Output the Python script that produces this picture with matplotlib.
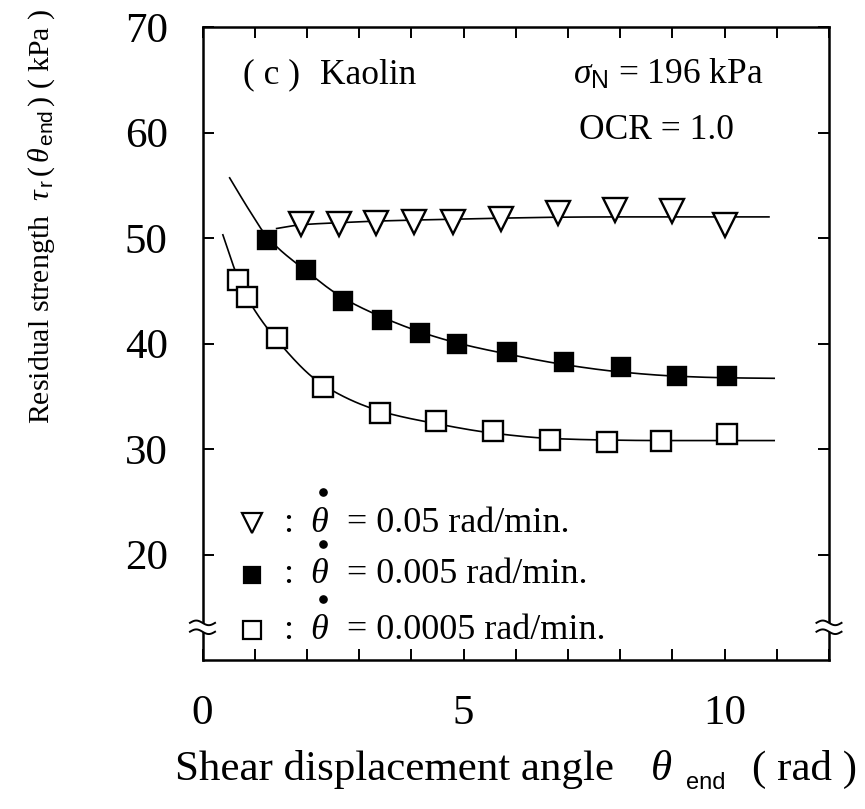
import numpy as np
import matplotlib
matplotlib.use("Agg")
import matplotlib.pyplot as plt
from matplotlib.ticker import MultipleLocator, FixedLocator

plt.rcParams["font.family"] = ["Liberation Serif", "DejaVu Serif"]
plt.rcParams["mathtext.fontset"] = "custom"
plt.rcParams["mathtext.rm"] = "Liberation Serif"
plt.rcParams["mathtext.it"] = "Liberation Serif:italic"
plt.rcParams["mathtext.sf"] = "Liberation Sans"
plt.rcParams["mathtext.bf"] = "Liberation Serif:bold"

# Measured residual strength tau_r (kPa) against shear displacement angle (rad)
theta_fast = [1.88, 2.62, 3.33, 4.06, 4.79, 5.72, 6.81, 7.91, 9.00, 10.00]
tau_fast = [51.3, 51.3, 51.45, 51.5, 51.55, 51.8, 52.4, 52.7, 52.6, 51.2]

theta_mid = [1.24, 1.98, 2.70, 3.44, 4.17, 4.88, 5.84, 6.93, 8.01, 9.09, 10.04]
tau_mid = [49.85, 47.0, 44.05, 42.2, 41.0, 40.0, 39.2, 38.2, 37.75, 36.9, 36.9]

theta_slow = [0.68, 0.86, 1.43, 2.30, 3.40, 4.48, 5.57, 6.66, 7.74, 8.79, 10.05]
tau_slow = [46.0, 44.4, 40.5, 35.9, 33.4, 32.7, 31.7, 30.9, 30.7, 30.8, 31.4]

# Knots of the hand-fitted trend curves
fit_fast_x = [1.42, 1.88, 2.62, 3.33, 4.06, 4.79, 5.72, 6.81, 7.91, 9.00, 10.85]
fit_fast_y = [50.9, 51.25, 51.45, 51.6, 51.7, 51.78, 51.88, 51.97, 52.0, 52.0, 52.0]
fit_mid_x = [0.52, 0.90, 1.24, 1.98, 2.70, 3.44, 4.17, 4.88, 5.84, 6.93, 8.01, 9.09, 10.04, 10.95]
fit_mid_y = [55.7, 52.6, 50.1, 46.9, 44.3, 42.5, 41.1, 40.05, 39.0, 38.0, 37.3, 36.9, 36.75, 36.7]
fit_slow_x = [0.39, 0.68, 0.86, 1.43, 2.30, 3.40, 4.48, 5.57, 6.66, 7.74, 8.79, 10.05, 10.95]
fit_slow_y = [50.3, 46.2, 44.3, 40.3, 36.1, 33.6, 32.4, 31.5, 31.0, 30.85, 30.8, 30.8, 30.8]

rate_labels = ["0.05", "0.005", "0.0005"]
x_tick_labels = ["0", "5", "10"]
y_tick_values = [20, 30, 40, 50, 60, 70]


def pchip(xk, yk, n=30):
    """Shape-preserving cubic through the knots (Fritsch-Carlson)."""
    x = np.asarray(xk, float)
    y = np.asarray(yk, float)
    h = np.diff(x)
    d = np.diff(y) / h
    m = np.zeros_like(x)
    for i in range(1, len(x) - 1):
        if d[i - 1] * d[i] > 0:
            w1 = 2 * h[i] + h[i - 1]
            w2 = h[i] + 2 * h[i - 1]
            m[i] = (w1 + w2) / (w1 / d[i - 1] + w2 / d[i])
    m[0] = d[0]
    m[-1] = d[-1]
    xs, ys = [], []
    for i in range(len(x) - 1):
        t = np.linspace(0, 1, n, endpoint=(i == len(x) - 2))
        h00 = 2 * t**3 - 3 * t**2 + 1
        h10 = t**3 - 2 * t**2 + t
        h01 = -2 * t**3 + 3 * t**2
        h11 = t**3 - t**2
        xs.append(x[i] + t * h[i])
        ys.append(h00 * y[i] + h10 * h[i] * m[i] + h01 * y[i + 1] + h11 * h[i] * m[i + 1])
    return np.concatenate(xs), np.concatenate(ys)


W, H = 865, 809
fig = plt.figure(figsize=(W / 100, H / 100), dpi=100)
ax = fig.add_axes([202.5 / W, (H - 660) / H, 626.5 / W, 633 / H])
ax.set_xlim(0, 12)
ax.set_ylim(10, 70)

# trend curves
for xk, yk in [(fit_fast_x, fit_fast_y), (fit_mid_x, fit_mid_y), (fit_slow_x, fit_slow_y)]:
    cx, cy = pchip(xk, yk)
    ax.plot(cx, cy, color="black", lw=1.2, zorder=2)

# measured points
mk = dict(linestyle="none", markeredgecolor="black", markeredgewidth=1.7, zorder=3)
ax.plot(theta_fast, tau_fast, marker="v", markersize=17, markerfacecolor="white", **mk)
ax.plot(theta_mid, tau_mid, marker="s", markersize=13.5, markerfacecolor="black", **mk)
ax.plot(theta_slow, tau_slow, marker="s", markersize=14.5, markerfacecolor="white", **mk)

# axes frame and ticks
for s in ax.spines.values():
    s.set_linewidth(1.8)
ax.xaxis.set_major_locator(FixedLocator([0, 5, 10]))
ax.set_xticklabels(x_tick_labels)
ax.xaxis.set_minor_locator(MultipleLocator(1))
ax.yaxis.set_major_locator(FixedLocator(y_tick_values))
ax.set_yticklabels([str(v) for v in y_tick_values])
ax.tick_params(which="both", direction="in", top=True, right=True,
               length=8, width=1.4, labelsize=31, pad=25)

# axis break marks on both vertical spines
yb = 13.1
wx = np.linspace(-0.24, 0.24, 40)
wave = 0.22 * np.sin(np.linspace(0, 2 * np.pi, 40))
for xb in (0, 12):
    ax.plot([xb, xb], [yb - 0.42, yb + 0.42], color="white", lw=4.5,
            clip_on=False, zorder=5, solid_capstyle="butt")
    for dy in (-0.42, 0.42):
        ax.plot(xb + wx, yb + dy + wave, color="black", lw=1.4,
                clip_on=False, zorder=6)

# annotations
fs = 25.5
ax.text(0.78, 65.45, "( c )", fontsize=fs, va="center", ha="left")
ax.text(2.25, 65.45, "Kaolin", fontsize=fs, va="center", ha="left")
ax.text(7.1, 65.45, r"$\sigma_{\mathsf{N}}$ = 196 kPa", fontsize=fs, va="center", ha="left")
ax.text(7.22, 60.2, "OCR = 1.0", fontsize=fs, va="center", ha="left")

# legend: key symbol, colon, theta with rate dot, value
leg_rows = [22.95, 18.06, 12.84]
key_styles = [dict(marker="v", markersize=14, markerfacecolor="white"),
              dict(marker="s", markersize=12, markerfacecolor="black"),
              dict(marker="s", markersize=13.5, markerfacecolor="white")]
lfs = 26
for yr, st, rl in zip(leg_rows, key_styles, rate_labels):
    ax.plot([0.94], [yr], linestyle="none", markeredgecolor="black",
            markeredgewidth=1.6, clip_on=False, **st)
    ax.text(1.64, yr, ":", fontsize=lfs, ha="center", va="center")
    ax.text(2.24, yr, "θ", fontsize=lfs, ha="center", va="center", style="italic")
    # time-derivative dot over theta
    ax.plot([2.31], [yr + 2.95], linestyle="none", marker="o", markersize=5.2,
            color="black", clip_on=False)
    ax.text(2.77, yr, "= " + rl + " rad/min.", fontsize=lfs, ha="left", va="center")

# x axis title, composed of pieces
fig.text(175 / W, 1 - 780 / H, "Shear displacement angle", fontsize=31,
         ha="left", va="baseline")
fig.text(651 / W, 1 - 780 / H, "θ", fontsize=31, style="italic",
         ha="left", va="baseline")
fig.text(686 / W, 1 - 789 / H, "end", fontsize=17, family="Liberation Sans",
         ha="left", va="baseline")
fig.text(752 / W, 1 - 780 / H, "( rad )", fontsize=31, ha="left", va="baseline")

# y axis title
fig.text(42 / W, 1 - 216 / H,
         r"Residual strength  $\tau_{\,\mathsf{r}}\,(\,\theta_{\,\mathsf{end}}\,)$ ( kPa )",
         fontsize=21.5, rotation=90, ha="center", va="center")

fig.savefig("out.png", dpi=100)
